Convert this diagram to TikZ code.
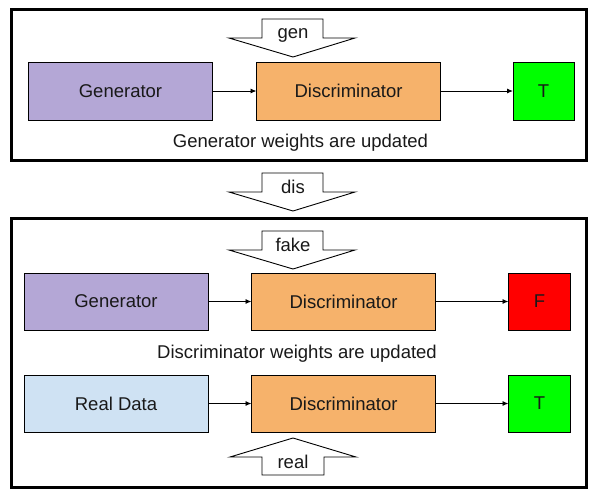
\documentclass[tikz,border=0pt]{standalone}
\usepackage{fontspec}
\setmainfont{Liberation Sans}
\usetikzlibrary{arrows.meta}
\definecolor{gencol}{HTML}{B4A7D6}
\definecolor{discol}{HTML}{F6B26B}
\definecolor{realcol}{HTML}{CFE2F3}
\definecolor{tcol}{HTML}{00FF00}
\definecolor{fcol}{HTML}{FF0000}
\begin{document}
\begin{tikzpicture}[x=1pt,y=-1pt,
  every node/.style={font=\fontsize{18.5}{22}\selectfont, text=black!90},
  box/.style={draw=black, line width=1pt, inner sep=0pt, outer sep=0pt},
  wide/.style={box, minimum width=184pt, minimum height=57pt},
  small/.style={box, minimum width=62pt, minimum height=57pt},
  frame/.style={draw=black, line width=3pt},
  conn/.style={draw=black, line width=0.9pt, -{Latex[length=6pt,width=5pt]}},
  blk/.style={draw=black, line width=0.9pt, fill=white, line join=miter},
  lbl/.style={anchor=base, inner sep=0pt},
  downblk/.pic={\path[blk] (-31,0) -- (30,0) -- (30,19) -- (62,19) -- (0,38) -- (-64,19) -- (-31,19) -- cycle;},
  upblk/.pic={\path[blk] (-31,37) -- (31,37) -- (31,19) -- (63,19) -- (0,0) -- (-63,19) -- (-31,19) -- cycle;}
]
\useasboundingbox (0,0) rectangle (600,499);
% frames
\draw[frame] (11.5,9.5) rectangle (586,160);
\draw[frame] (11.5,218) rectangle (586.5,487.5);

% top section
\node[wide, fill=gencol, minimum height=58pt] (g1) at (120.5,91) {Generator};
\node[wide, fill=discol, minimum height=58pt] (d1) at (348.5,91) {Discriminator};
\node[small, fill=tcol, minimum height=58pt, minimum width=61pt] (t1) at (543.5,91) {T};
\draw[conn] (g1) -- (d1);
\draw[conn] (d1) -- (t1);
\pic at (293,19) {downblk};
\node[lbl] (gen) at (293,38) {gen};
\node[lbl] (upd1) at (300.5,147) {Generator weights are updated};

% between
\pic at (293,173) {downblk};
\node[lbl] (dis) at (293,193) {dis};

% bottom section, row 1
\pic at (293,231) {downblk};
\node[lbl] (fake) at (293,251) {fake};
\node[wide, fill=gencol] (g2) at (116,301.5) {Generator};
\node[wide, fill=discol] (d2) at (343.5,301.5) {Discriminator};
\node[small, fill=fcol] (f2) at (539.5,301.5) {F};
\draw[conn] (g2) -- (d2);
\draw[conn] (d2) -- (f2);
\node[lbl] (upd2) at (297,358) {Discriminator weights are updated};

% row 2
\node[wide, fill=realcol] (r3) at (116,403.5) {Real Data};
\node[wide, fill=discol] (d3) at (343.5,403.5) {Discriminator};
\node[small, fill=tcol] (t3) at (539.5,403.5) {T};
\draw[conn] (r3) -- (d3);
\draw[conn] (d3) -- (t3);
\pic at (293,438) {upblk};
\node[lbl] (real) at (293,468) {real};
\end{tikzpicture}
\end{document}
